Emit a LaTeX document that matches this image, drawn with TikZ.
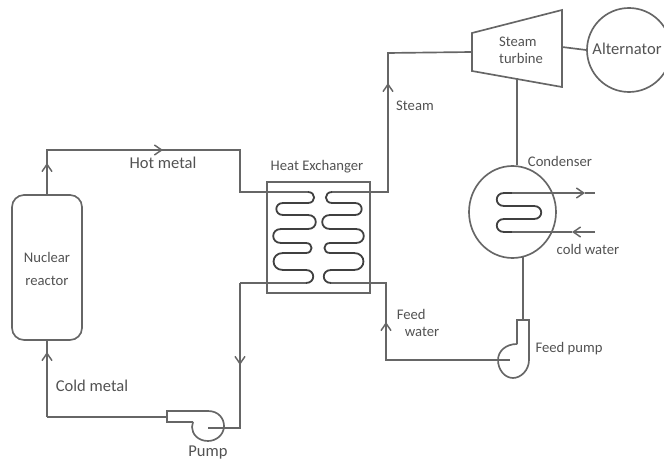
\documentclass[tikz,border=0pt]{standalone}
\usepackage{fontspec}
\setmainfont{Carlito}
\usepackage{tikz}
\usetikzlibrary{arrows.meta,positioning,calc,shapes.geometric}

\begin{document}
\begin{tikzpicture}[
    x=0.75pt, y=-0.75pt,
    pipe/.style={draw=black!60, line width=1.25pt},
    flow/.style={pipe, -{Straight Barb[length=5.5pt,width=7.5pt,line width=1.1pt]}},
    coil/.style={draw=black!75, line width=1.35pt},
    turnr/.style={out=0, in=0, looseness=1.9},
    turnl/.style={out=180, in=180, looseness=1.9},
    unit/.style={pipe, inner sep=0pt},
    lbl/.style={font=\fontsize{11}{13}\selectfont, text=black!68, align=center, inner sep=0pt},
    biglbl/.style={lbl, font=\fontsize{12.4}{14}\selectfont},
]
\useasboundingbox (0,0) rectangle (664,463);
\clip (0,0) rectangle (664,463);

% === Main units ===
\node[unit, rounded corners=9pt, minimum width=52.5pt, minimum height=108.75pt] (reactor) at (47,267.5) {};
\node[unit, minimum width=77.25pt, minimum height=83.25pt] (hx) at (318.5,237.5) {};
\node[unit, circle, minimum size=63pt] (alternator) at (629,50) {};
\node[unit, ellipse, minimum width=65.25pt, minimum height=69pt] (condenser) at (512.5,212) {};

% === Turbine ===
\coordinate (tba) at (472,33);
\coordinate (tbb) at (562,10);
\coordinate (tbc) at (562,87);
\coordinate (tbd) at (472,71);
\draw[pipe, line join=miter] (tba) -- (tbb) -- (tbc) -- (tbd) -- cycle;

% === Reactor loop ===
\coordinate (hota) at (47,150);
\coordinate (hotb) at (240,150);
\coordinate (hotc) at (240,192);
\coordinate (hotd) at (308,192);
\coordinate (colda) at (240,283);
\coordinate (coldb) at (240,428);
\coordinate (coldc) at (208,428);
\coordinate (coldd) at (167,417);
\coordinate (colde) at (47,417);
\draw[flow] (reactor.north) -- (47,163);
\draw[pipe] (47,170) -- (hota) -- (hotb) -- (hotc) -- (hotd);
\draw[flow] (hota) -- (163,150);
\draw[flow] (colda) -- (240,365);
\draw[pipe] (240,360) -- (coldb) -- (coldc);
\draw[pipe] (coldd) -- (colde);
\draw[flow] (colde) -- (47,352);
\draw[pipe] (47,360) -- (reactor.south);

% === Primary pump ===
\draw[pipe] (193,422) -- (167,422) -- (167,411) -- (208,411)
  .. controls (219,411) and (224,419) .. (224,426)
  .. controls (224,435) and (216,441) .. (208,441)
  .. controls (198,441) and (192,434) .. (192,427)
  .. controls (192,425) and (192,424) .. (193,422);

% === Steam and feed lines ===
\coordinate (stma) at (388,192);
\coordinate (stmb) at (388,53);
\coordinate (fwa) at (386,283);
\coordinate (fwb) at (386,360);
\coordinate (fwc) at (510,360);
\draw[pipe] (330,283) -- (fwa) -- (fwb) -- (fwc);
\draw[pipe] (332,192) -- (stma) -- (388,90);
\draw[flow] (stma) -- (388,83);
\draw[pipe] (388,90) -- (stmb) -- ($(tba)!0.5!(tbd)$);
\draw[flow] (fwb) -- (386,322);
\draw[pipe] (240,283) -- (307,283);

% === Heat exchanger coils ===
\draw[coil] (308,192) to[turnr] (308,203) -- (283,203) to[turnl] (283,215) -- (308,215)
  to[turnr] (308,229) -- (281,229) to[turnl] (281,243) -- (306,243)
  to[turnr] (306,253) -- (283,253) to[turnl] (283,270) -- (306,270)
  to[turnr] (306,283);
\draw[coil] (332,192) to[turnl] (332,203) -- (355,203) to[turnr] (355,215) -- (330,215)
  to[turnl] (330,229) -- (356,229) to[turnr] (356,243) -- (330,243)
  to[turnl] (330,253) -- (354,253) to[turnr] (354,270) -- (331,270)
  to[turnl] (331,283);

% === Turbine links ===
\draw[pipe] (562,47) -- (alternator.west);
\draw[pipe] (517,78.5) -- (condenser.north-|517,0);

% === Condenser coil ===
\coordinate (cwa) at (595,193);
\coordinate (cwb) at (595,232);
\draw[coil] (512,193) -- (504,193) to[turnl] (504,206) -- (534,206) to[turnr] (534,219)
  -- (504,219) to[turnl] (504,232) -- (512,232);
\draw[flow] (512,193) -- (585,193);
\draw[pipe] (585,193) -- (cwa);
\draw[flow] (cwb) -- (572,232);
\draw[pipe] (572,232) -- (512,232);

% === Feed pump ===
\coordinate (fpa) at (523,320);
\draw[pipe] (523,257) -- (fpa);
\draw[pipe] (517,344) -- (517,320) -- (529,320) -- (529,360)
  .. controls (529,370) and (521,378) .. (513,378)
  .. controls (505,378) and (498,370) .. (498,360)
  .. controls (498,351) and (506,344) .. (517,344);

% === Labels ===
\node[lbl] (nuclear) at (47,269) {Nuclear\\[4pt]reactor};
\node[biglbl] (hotlbl) at (163,163) {Hot metal};
\node[lbl] (hxlbl) at (317,167) {Heat Exchanger};
\node[lbl] (steam) at (415,106) {Steam};
\node[lbl, align=left] (tblbl) at (521,50.5) {Steam\\turbine};
\node[biglbl] (altlbl) at (627,49) {Alternator};
\node[lbl] (cndlbl) at (560,161) {Condenser};
\node[lbl] (cwlbl) at (588,249) {cold water};
\node[lbl] (fplbl) at (569,349) {Feed pump};
\node[lbl, align=left] (fwlbl) at (418,323) {Feed\\\hspace*{6pt}water};
\node[biglbl] (pmplbl) at (208,453) {Pump};
\node[biglbl] (cmlbl) at (92,386) {Cold metal};

\end{tikzpicture}
\end{document}
